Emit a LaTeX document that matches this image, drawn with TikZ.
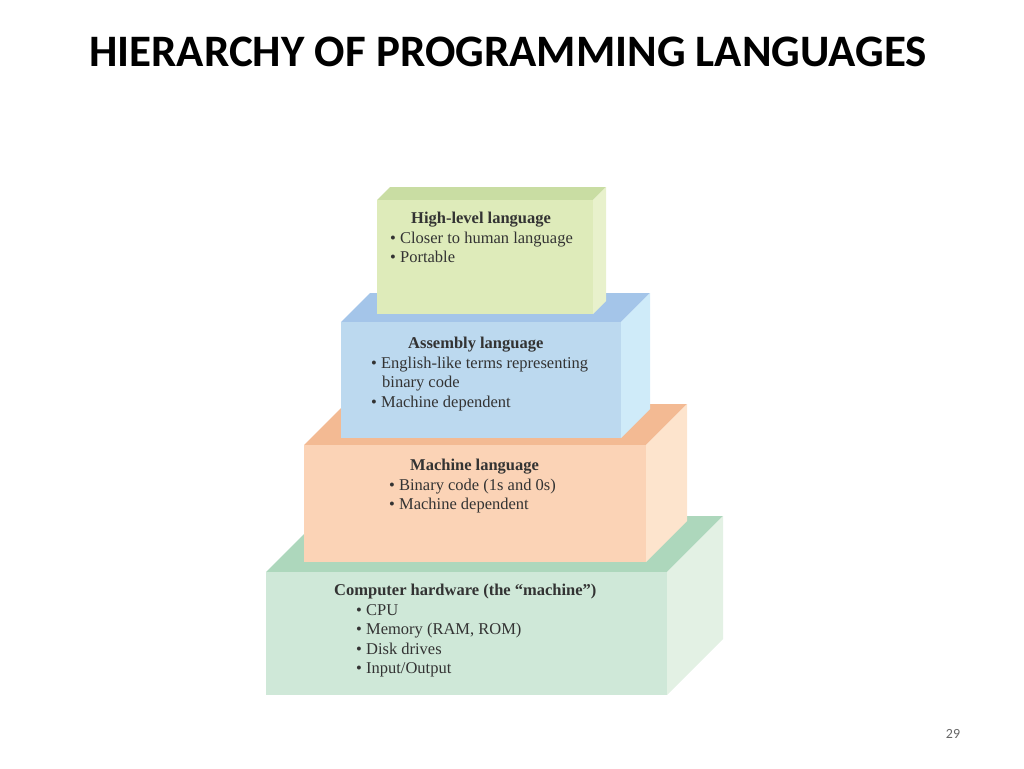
\documentclass[tikz,border=0pt]{standalone}
\usepackage{fontspec}
\setmainfont{Liberation Serif}
\newfontfamily\titlefont{Carlito}
\usetikzlibrary{positioning}

\definecolor{hwfront}{HTML}{CFE8D8}
\definecolor{hwtop}{HTML}{ADD7BC}
\definecolor{hwside}{HTML}{E3F1E4}
\definecolor{mlfront}{HTML}{FBD3B6}
\definecolor{mltop}{HTML}{F3BA93}
\definecolor{mlside}{HTML}{FDE4CD}
\definecolor{alfront}{HTML}{BCD9EF}
\definecolor{altop}{HTML}{A4C5E9}
\definecolor{alside}{HTML}{CFEBF9}
\definecolor{hlfront}{HTML}{DEEBBA}
\definecolor{hltop}{HTML}{C9DDA3}
\definecolor{hlside}{HTML}{E8F1CC}

\tikzset{
  blocktext/.style={anchor=north west, align=left, inner sep=0pt, font=\fontsize{16.5}{19.5}\selectfont, text=black!80},
}
% \layer{x0}{y0}{x1}{y1}{depth}{front}{top}{side}
\newcommand\layer[8]{%
  \fill[#7] (#1,#2) -- (#1+#5,#2-#5) -- (#3+#5,#2-#5) -- (#3,#2) -- cycle;
  \fill[#8] (#3,#2) -- (#3+#5,#2-#5) -- (#3+#5,#4-#5) -- (#3,#4) -- cycle;
  \fill[#6] (#1,#2) rectangle (#3,#4);
}

\begin{document}
\begin{tikzpicture}[x=1pt, y=-1pt]
\useasboundingbox (0,0) rectangle (1024,768);

% title
\node[font=\titlefont\bfseries\fontsize{45}{48}\selectfont] (title) at (508,52) {HIERARCHY OF PROGRAMMING LANGUAGES};

% layers, bottom to top
\layer{266}{572}{667}{695}{56}{hwfront}{hwtop}{hwside}
\layer{304}{445}{646}{562}{41}{mlfront}{mltop}{mlside}
\layer{341}{322}{621}{438}{29}{alfront}{altop}{alside}
\layer{377}{200}{593}{314}{13}{hlfront}{hltop}{hlside}

% texts
\node[blocktext] (high) at (390,212) {\hspace{21pt}\textbf{High-level language}\\
  • Closer to human language\\ • Portable};
\node[blocktext] (asm) at (371,337) {\hspace{37pt}\textbf{Assembly language}\\
  • English-like terms representing\\ \hspace{11pt}binary code\\ • Machine dependent};
\node[blocktext] (mach) at (389,459) {\hspace{21pt}\textbf{Machine language}\\
  • Binary code (1s and 0s)\\ • Machine dependent};
\node[blocktext] (hw) at (334,584) {\textbf{Computer hardware (the “machine”)}\\
  \hspace{22pt}• CPU\\ \hspace{22pt}• Memory (RAM, ROM)\\ \hspace{22pt}• Disk drives\\ \hspace{22pt}• Input/Output};

% page number
\node[font=\titlefont\fontsize{14}{16}\selectfont, text=black!60] (page) at (953,734) {29};
\end{tikzpicture}
\end{document}
